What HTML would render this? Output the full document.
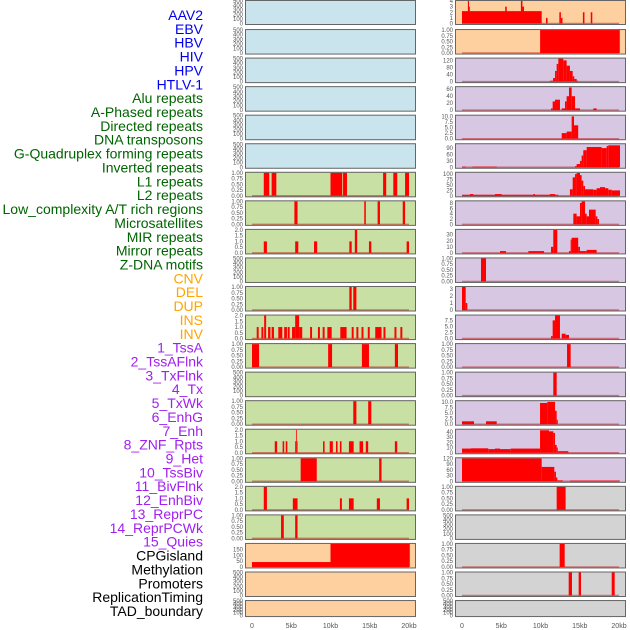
<!DOCTYPE html>
<html><head><meta charset="utf-8"><style>
html,body{margin:0;padding:0;background:#fff;}
svg{display:block;font-family:"Liberation Sans",sans-serif;}
</style></head><body>
<svg id="c" width="630" height="630" viewBox="0 0 630 630"></svg>
<script>
const labels=["AAV2","EBV","HBV","HIV","HPV","HTLV-1","Alu repeats","A-Phased repeats","Directed repeats","DNA transposons","G-Quadruplex forming repeats","Inverted repeats","L1 repeats","L2 repeats","Low_complexity A/T rich regions","Microsatellites","MIR repeats","Mirror repeats","Z-DNA motifs","CNV","DEL","DUP","INS","INV","1_TssA","2_TssAFlnk","3_TxFlnk","4_Tx","5_TxWk","6_EnhG","7_Enh","8_ZNF_Rpts","9_Het","10_TssBiv","11_BivFlnk","12_EnhBiv","13_ReprPC","14_ReprPCWk","15_Quies","CPGisland","Methylation","Promoters","ReplicationTiming","TAD_boundary"];
const groups=[6,13,5,15,5];
const groupColors=["#0000ee","#006400","#ffa500","#a020f0","#000000"];
const groupBg=["#c9e4ec","#c9e0a4","#ffd09f","#d7c7e3","#d3d3d3"];
const xTicks=[0,5,10,15,20];
const xTickLabels=["0","5kb","10kb","15kb","20kb"];
const E=[0,100,200,300,400,500];
const T1=[0,0.25,0.5,0.75,1];
const T2=[0,0.5,1,1.5,2];
// panel ticks and top value
const ticks=[E,E,E,E,E,E, T1,T1,T2,E,T1,T2,T1,E,T1,T2,T1,T2,T1,[0,50,100,150],E,E,
 [0,1,2,3,4],T1,[0,40,80,120],[0,20,40,60],[0,2.5,5,7.5,10],[0,30,60,90],[0,25,50,75,100],[0,2,4,6,8],[0,10,20,30],T1,[0,1,2,3],[0,2.5,5,7.5],T1,T1,[0,2.5,5,7.5,10],[0,10,20,30,40],[0,30,60,90,120],T1,E,T1,T1,E];
const tops=[500,500,500,500,500,500, 1,1,2,500,1,2,1,500,1,2,1,2,1,197,500,500,
 4,1,130,66,10.3,108,106,8.6,38,1,3.3,9.5,1,1,10.3,44,120,1,500,1,1,500];
const segs=[[],[],[],[],[],[],
[[1.5,2.2,1],[2.5,3.1,1],[10,11.5,1],[11.6,12.1,1],[16.7,17.1,1],[18,18.5,1],[19.5,20,1]],
[[5.4,5.8,1],[14.3,14.5,1],[16,16.3,1],[19.2,19.5,1]],
[[1.5,1.9,1],[5.5,5.9,1],[7.9,8.3,1],[12.4,12.7,1],[13.1,13.4,2],[14.9,15.2,1],[19.7,20,1]],
[],
[[12.4,12.7,1],[12.9,13.3,1]],
[[0.6,0.85,1],[1.2,1.45,1],[1.55,1.8,2],[2.05,2.35,1],[2.5,2.8,1],[3.35,3.86,1],[4.1,4.45,1],[4.55,4.8,1],[5.1,5.5,1],[5.5,6,2],[6,6.4,1],[7.4,7.65,1],[8.4,8.65,1],[9,9.25,1],[9.6,10.15,1],[11.25,12.05,1],[12.7,12.95,1],[13.3,13.55,1],[13.95,14.2,1],[14.75,15,1],[15.7,16.5,1],[16.75,17,1],[18.15,18.4,1],[18.9,19.15,1]],
[[0,0.9,1],[9.7,10.2,1],[14,14.9,1],[18.2,18.6,1]],
[],
[[12.9,13.3,1],[14.8,15.2,1]],
[[2.9,3.2,1],[3.9,4.1,1],[4.3,4.5,1],[5.5,5.6,1],[5.6,5.7,2],[5.7,5.8,1],[9.05,9.25,1],[9.9,10.3,1],[10.7,10.9,1],[11.2,11.4,1],[12.35,12.95,1],[13.7,14.15,1],[14.5,14.8,1],[18.2,18.5,1]],
[[6.2,8.25,1],[16.2,16.5,1]],
[[1.5,1.9,2],[5.2,5.8,1],[11.2,11.45,1],[12.35,12.95,1],[15.9,16.3,1],[19.7,20,1]],
[[3.7,4.05,1],[5.5,5.8,1]],
[[0,10,42],[10,20.1,200]],
[],[],
[[0,10.15,2.2],[0.75,0.9,4],[0.9,1,3],[5.5,5.7,3],[7.5,7.7,4],[7.7,7.9,3],[10.7,10.9,1],[12.4,12.6,2],[12.6,12.8,1],[15.4,15.6,2],[16.4,16.6,2]],
[[9.95,20.1,1]],
[[11.2,11.6,5],[11.6,11.85,20],[11.85,12.06,60],[12.06,12.27,100],[12.27,12.9,130],[12.9,13.33,120],[13.33,13.75,90],[13.75,14.1,60],[14.1,14.3,30],[14.3,14.6,15],[14.6,14.8,5]],
[[11.34,11.55,5],[11.55,11.85,25],[11.85,12.48,30],[12.7,13.12,5],[13.12,13.33,25],[13.33,13.63,40],[13.63,13.97,65],[13.97,14.4,40],[14.4,15.03,5],[16.73,17.15,5]],
[[12.7,13.33,2.5],[13.33,13.97,3.2],[13.97,14.27,10],[14.27,14.8,6]],
[[0,0.47,3],[1.32,4.42,3],[14.4,14.6,5],[14.6,15.03,15],[15.03,15.24,30],[15.24,15.45,55],[15.45,15.88,80],[15.88,17.79,95],[17.79,18.43,90],[18.43,18.64,100],[18.64,20.13,103]],
[[0,12.27,5],[1.02,1.45,8],[4.2,5.05,8],[9.1,9.3,8],[11.2,11.85,8],[13.75,14.1,30],[14.1,14.4,85],[14.4,14.6,100],[14.6,15.03,105],[15.03,15.24,95],[15.24,15.45,70],[15.45,15.67,45],[15.67,16.73,30],[16.73,17.15,28],[17.15,17.58,35],[17.58,18.22,40],[18.22,18.64,35],[18.64,19.07,28],[19.07,20.13,25]],
[[14.18,14.6,4],[14.6,15.03,3],[15.03,15.24,8],[15.24,15.67,9],[15.67,15.88,4],[15.88,16.18,3],[16.18,17.03,5.5],[17.03,17.24,3],[17.24,17.45,2]],
[[4.84,5.6,3],[8.45,10.45,3],[11.34,11.63,10],[11.63,12.14,40],[13.63,13.84,3],[13.84,13.97,22],[13.97,14.8,25],[14.8,15.03,10],[15.03,15.88,3],[15.88,17.15,5]],
[[2.42,3.06,1]],
[[0,0.47,3.3],[0.47,0.68,1]],
[[11.34,11.55,1],[11.55,11.85,7.5],[11.85,12.48,9.5],[12.7,13.2,2],[13.2,13.63,1.5]],
[[13.38,13.84,1]],
[[11.63,12.06,1]],
[[0,1.53,1.3],[3.06,4.42,1.3],[9.94,10.87,9.5],[10.87,11.85,10],[11.85,12.06,6],[12.06,12.2,2]],
[[0,1.15,8],[1.15,3.35,8.5],[3.35,4.2,7],[4.2,4.84,8],[4.84,6.2,7],[6.2,9.94,8],[9.94,11.08,43],[11.08,11.63,41],[11.63,11.85,38],[11.85,12.06,15],[12.06,12.2,10],[12.2,13.55,3]],
[[0,10.15,120],[10.15,11.76,75],[11.76,11.97,50],[11.97,12.14,20],[12.14,12.82,5],[13.75,20.13,4]],
[[12.06,13.2,1]],
[],
[[12.44,13.08,1]],
[[13.59,14.01,1],[14.86,15.16,1],[19.07,19.45,1]],
[]];
const NS="http://www.w3.org/2000/svg";
const svg=document.getElementById('c');
function mk(tag,attrs,parent){const e=document.createElementNS(NS,tag);for(const k in attrs)e.setAttribute(k,attrs[k]);(parent||svg).appendChild(e);return e;}
// labels
let gi=0,cnt=0,gIdx=[];
for(let g=0;g<groups.length;g++)for(let j=0;j<groups[g];j++)gIdx.push(g);
labels.forEach((t,i)=>{
  const el=mk('text',{x:203,y:15+i*13.86+5,'text-anchor':'end','font-size':14,fill:groupColors[gIdx[i]]});
  el.textContent=t;
  
  
});
const cols=[{x0:245,x1:416,zero:252,lab:243},{x0:455,x1:626,zero:462,lab:453}];
const pxPerKb=7.85;
for(let p=0;p<44;p++){
  const c=cols[p<22?0:1], r=p%22;
  const top=r===0?0:0.5+r*28.55;
  const h=r===21?17:(r===0?25:25.5);
  const bottom=top+h;
  const g=mk('g',{});
  
  
  const bg=mk('rect',{x:c.x0,y:top,width:c.x1-c.x0,height:h,fill:groupBg[gIdx[p]]},g);
  
  
  const ymax=tops[p];
  const yS=v=>bottom-1.5-Math.min(v,ymax)/ymax*(h-2.5);
  const xS=k=>c.zero+k*pxPerKb;
  if(segs[p].length){
    const bl=mk('line',{x1:xS(0),x2:xS(20),y1:bottom-1.5,y2:bottom-1.5,stroke:'rgba(190,0,0,0.45)','stroke-width':1.5},g);
    
    
  }
  segs[p].forEach(s=>{
    const b=mk('rect',{x:xS(s[0]),y:yS(s[2]),width:Math.max(0.8,xS(s[1])-xS(s[0])),height:bottom-1.5-yS(s[2]),fill:'#ff0000'},g);
    
    
  });
  const bd=mk('rect',{x:c.x0+0.5,y:top+0.5,width:c.x1-c.x0-1,height:h-1,fill:'none',stroke:'#666','stroke-width':1},g);
  
  
  ticks[p].forEach(v=>{
    const tl=mk('text',{x:c.lab,y:yS(v)+2,'text-anchor':'end','font-size':6,fill:'#555'},g);
    tl.textContent=(ticks[p]===T1)?v.toFixed(2):(ticks[p]===T2||ticks[p][1]===2.5?v.toFixed(1):String(v));
    
    
  });
}
cols.forEach(c=>{
  xTicks.forEach((k,i)=>{
    const t=mk('text',{x:c.zero+k*pxPerKb,y:628,'text-anchor':'middle','font-size':7,fill:'#555'});
    t.textContent=xTickLabels[i];
    
    
  });
});
</script>
</body></html>
